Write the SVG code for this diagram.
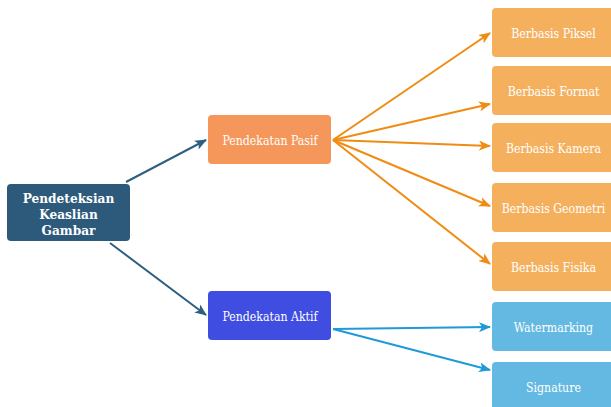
<svg xmlns="http://www.w3.org/2000/svg" width="611" height="407" viewBox="0 0 611 407">
<style>
.t{font-family:"DejaVu Serif Condensed","DejaVu Serif",serif;font-stretch:condensed;font-size:12.2px;fill:#fff;text-anchor:middle}
.b{font-family:"DejaVu Serif Condensed","DejaVu Serif",serif;font-stretch:condensed;font-size:13.5px;font-weight:bold;fill:#fff;text-anchor:middle}
.o{fill:#f5b05e}
.c{fill:#63b9e1}
.eo{stroke:#ef8c12;stroke-width:2;fill:none}
.eb{stroke:#1f9ad6;stroke-width:2;fill:none}
.ed{stroke:#2e5f80;stroke-width:2;fill:none}
</style>
<defs>
<marker id="ao" viewBox="0 0 12 10" refX="11" refY="5" markerWidth="12" markerHeight="10" markerUnits="userSpaceOnUse" orient="auto"><path d="M0,0 L12,5 L0,10 L3,5 z" fill="#ef8c12"/></marker>
<marker id="ab" viewBox="0 0 12 10" refX="11" refY="5" markerWidth="12" markerHeight="10" markerUnits="userSpaceOnUse" orient="auto"><path d="M0,0 L12,5 L0,10 L3,5 z" fill="#1f9ad6"/></marker>
<marker id="ad" viewBox="0 0 12 10" refX="11" refY="5" markerWidth="12" markerHeight="10" markerUnits="userSpaceOnUse" orient="auto"><path d="M0,0 L12,5 L0,10 L3,5 z" fill="#2e5f80"/></marker>
</defs>
<rect width="611" height="407" fill="#fff"/>
<g id="connectors">
<line class="ed" x1="126" y1="182" x2="206" y2="140" marker-end="url(#ad)"/>
<line class="ed" x1="110" y1="243" x2="206" y2="315" marker-end="url(#ad)"/>
<line class="eo" x1="333" y1="140" x2="490" y2="33" marker-end="url(#ao)"/>
<line class="eo" x1="333" y1="140" x2="490" y2="104" marker-end="url(#ao)"/>
<line class="eo" x1="333" y1="140" x2="490" y2="146" marker-end="url(#ao)"/>
<line class="eo" x1="333" y1="140" x2="490" y2="206" marker-end="url(#ao)"/>
<line class="eo" x1="333" y1="140" x2="490" y2="264" marker-end="url(#ao)"/>
<line class="eb" x1="333" y1="329" x2="490" y2="327" marker-end="url(#ab)"/>
<line class="eb" x1="333" y1="329" x2="490" y2="370" marker-end="url(#ab)"/>
</g>
<g id="root"><rect x="7" y="184" width="123" height="57" rx="4" fill="#2d5a7b"/>
<text class="b" x="68.5" y="203.3">Pendeteksian</text><text class="b" x="68.5" y="219">Keaslian</text><text class="b" x="68.5" y="234.5">Gambar</text></g>
<g id="pasif"><rect x="208" y="115" width="123" height="49" rx="4" fill="#f5975a"/><text class="t" x="270" y="144.5">Pendekatan Pasif</text></g>
<g id="aktif"><rect x="208" y="291" width="123" height="49" rx="4" fill="#3f4de0"/><text class="t" x="270" y="320.5">Pendekatan Aktif</text></g>
<g id="piksel"><rect class="o" x="492" y="8" width="123" height="49" rx="4"/><text class="t" x="553.5" y="37.5">Berbasis Piksel</text></g>
<g id="format"><rect class="o" x="492" y="66" width="123" height="49" rx="4"/><text class="t" x="553.5" y="95.5">Berbasis Format</text></g>
<g id="kamera"><rect class="o" x="492" y="123" width="123" height="49" rx="4"/><text class="t" x="553.5" y="152.5">Berbasis Kamera</text></g>
<g id="geometri"><rect class="o" x="492" y="183" width="123" height="49" rx="4"/><text class="t" x="553.5" y="212.5">Berbasis Geometri</text></g>
<g id="fisika"><rect class="o" x="492" y="242" width="123" height="49" rx="4"/><text class="t" x="553.5" y="271.5">Berbasis Fisika</text></g>
<g id="watermarking"><rect class="c" x="492" y="302" width="123" height="49" rx="4"/><text class="t" x="553.5" y="331.5">Watermarking</text></g>
<g id="signature"><rect class="c" x="492" y="362" width="123" height="49" rx="4"/><text class="t" x="553.5" y="391.5">Signature</text></g>
</svg>
